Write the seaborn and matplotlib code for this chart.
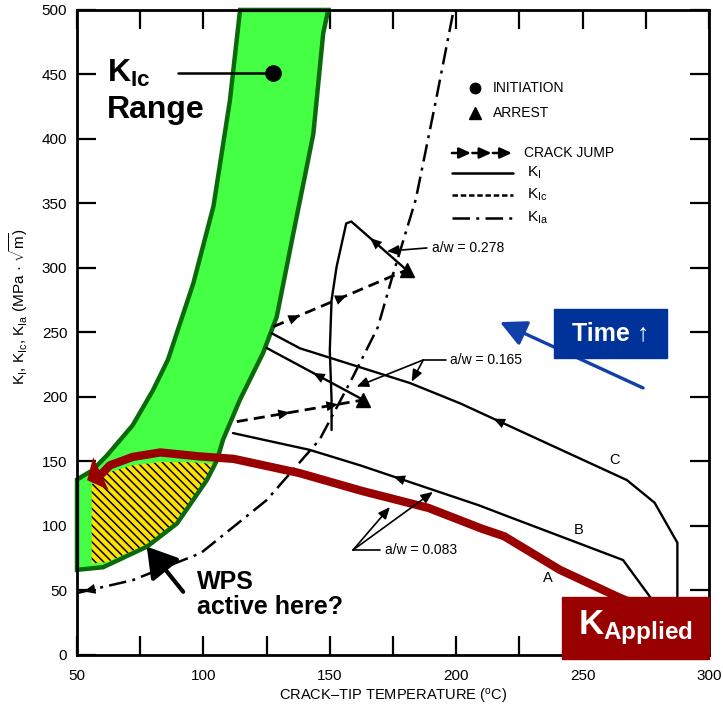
import numpy as np
import matplotlib.pyplot as plt
from matplotlib.patches import Rectangle
import seaborn as sns

# ---- values (data units: degC, MPa*sqrt(m)) ----
# K_Ic scatter band: outer edge going up, then inner edge coming back down
band_left_x = [50, 50, 56, 62, 72, 80, 86, 96, 104, 110.5, 114.5]
band_left_y = [66, 136, 143, 155, 178, 205, 229, 288, 348, 430, 500]
band_right_x = [149.4, 147.4, 143.5, 140.9, 135.6, 129, 123.6, 114.5, 107.8, 105.4, 101.4, 89.6, 77.7, 60.3]
band_right_y = [500, 482, 404, 378.5, 327, 262, 234, 198, 167, 151, 135.7, 102, 84, 68]

# hatched "WPS" region inside the band
wps_x = [55.8, 55.8, 60, 66, 72, 83, 95, 104, 101.4, 90, 78, 62]
wps_y = [71, 132, 140, 143.5, 147, 149.5, 149.5, 148, 136, 103, 86, 72]

# K_Ia (dash-dot)
kia_x = [50, 72, 99, 125, 146, 159, 169, 175, 184, 192, 199]
kia_y = [48, 58, 79, 120, 167, 215, 254, 295, 353, 430, 500]

# K_I curves, in time order (temperature falling)
kc_x = [287.5, 287.5, 278.5, 267.5, 201.5, 181.7, 162, 138.2, 127]
kc_y = [38, 87, 118, 135.6, 195.1, 210.8, 223, 237.7, 249.4]
kb_x = [279, 276.7, 266, 221, 209, 162, 142, 111.7]
kb_y = [38, 45, 73.6, 107, 116, 147, 159, 172]
k165_x = [163.3, 125]
k165_y = [197.7, 238]
k278_x = [180.4, 158.5, 156.5, 152.7, 150.7, 150, 150.7, 150.7]
k278_y = [298.4, 336, 334.5, 301, 275, 236, 198, 174.4]

# crack jumps (initiation -> arrest)
jump1_x = [127.7, 180.4]
jump1_y = [254.5, 298.4]
jump2_x = [113.2, 163.3]
jump2_y = [180.9, 197.7]
arrest_x = [180.4, 163.3]
arrest_y = [298.4, 197.7]

# K applied (red)
kapp_x = [59, 63, 72, 83, 98, 112, 138, 163, 189, 210, 219, 241, 264, 276]
kapp_y = [139, 147, 153.5, 157, 154, 152, 141, 127, 114, 98, 92, 66, 45, 35]

x_ticks = [50, 100, 150, 200, 250, 300]
y_ticks = [0, 50, 100, 150, 200, 250, 300, 350, 400, 450, 500]

BLACK = 'black'
RED = '#990000'
BLUE = '#003399'

sns.set_theme(style='ticks')
plt.rcParams['font.family'] = ['Liberation Sans', 'DejaVu Sans']
plt.rcParams['mathtext.fontset'] = 'custom'
plt.rcParams['mathtext.rm'] = 'Liberation Sans'
plt.rcParams['mathtext.it'] = 'Liberation Sans:italic'
plt.rcParams['mathtext.bf'] = 'Liberation Sans:bold'
plt.rcParams['hatch.linewidth'] = 1.1
for key in ['text.color', 'axes.labelcolor', 'xtick.color', 'ytick.color', 'axes.edgecolor']:
    plt.rcParams[key] = BLACK

fig = plt.figure(figsize=(7.23, 7.10), dpi=100)
ax = fig.add_axes([0.1065, 0.0775, 0.8741, 0.9085])


def head(x0, y0, x1, y1, frac, size=10, color=BLACK):
    # small filled arrowhead sitting on a segment, pointing from (x0,y0) to (x1,y1)
    xa, ya = x0 + (x1 - x0) * frac, y0 + (y1 - y0) * frac
    xb, yb = x0 + (x1 - x0) * (frac - 0.04), y0 + (y1 - y0) * (frac - 0.04)
    ax.annotate('', xy=(xa, ya), xytext=(xb, yb), zorder=5,
                arrowprops=dict(arrowstyle='-|>,head_length=0.7,head_width=0.3',
                                color=color, lw=0, shrinkA=0, shrinkB=0,
                                mutation_scale=size))


def leader(x0, y0, x1, y1):
    ax.annotate('', xy=(x1, y1), xytext=(x0, y0), zorder=5,
                arrowprops=dict(arrowstyle='-|>,head_length=0.7,head_width=0.3',
                                color=BLACK, lw=1.2, shrinkA=0, shrinkB=0,
                                mutation_scale=10))


# band + hatched WPS area
bx = band_left_x + band_right_x
by = band_left_y + band_right_y
ax.fill(bx, by, color='#44FF44', lw=0, zorder=2)
ax.fill(wps_x, wps_y, facecolor='#FFE000', edgecolor=BLACK, hatch='\\\\\\\\', lw=0, zorder=2.1)
ax.fill(bx, by, facecolor='none', edgecolor='#0A6A0A', lw=3.2, zorder=2.2, clip_on=False)

# K_Ia
sns.lineplot(x=kia_x, y=kia_y, sort=False, estimator=None, errorbar=None, color=BLACK,
             lw=1.8, linestyle=(0, (7, 2.5, 1.2, 2.5)), ax=ax, zorder=3)
head(kia_x[1], kia_y[1], kia_x[0], kia_y[0], 0.88, size=12)

# K_I curves
for cx, cy in [(kc_x, kc_y), (kb_x, kb_y), (k165_x, k165_y), (k278_x, k278_y)]:
    sns.lineplot(x=cx, y=cy, sort=False, estimator=None, errorbar=None, color=BLACK,
                 lw=1.7, ax=ax, zorder=3)
head(kc_x[3], kc_y[3], kc_x[4], kc_y[4], 0.8, size=12)
head(kb_x[4], kb_y[4], kb_x[5], kb_y[5], 0.72, size=12)
head(k165_x[0], k165_y[0], k165_x[1], k165_y[1], 0.52, size=12)
head(k278_x[0], k278_y[0], k278_x[1], k278_y[1], 0.66, size=12)

# crack jumps
for jx, jy, fr in [(jump1_x, jump1_y, [0.2, 0.55]), (jump2_x, jump2_y, [0.42, 0.8])]:
    sns.lineplot(x=jx, y=jy, sort=False, estimator=None, errorbar=None, color=BLACK,
                 lw=2, linestyle=(0, (4, 2.2)), ax=ax, zorder=3)
    for f in fr:
        head(jx[0], jy[0], jx[1], jy[1], f, size=12)
ax.plot(arrest_x, arrest_y, '^', color=BLACK, ms=10, zorder=5)

# a/w call-outs and curve letters
ax.text(190.4, 315.5, 'a/w = 0.278', fontsize=10, va='center', zorder=6)
leader(188.4, 315.5, 172.6, 313)
ax.text(197.6, 228.7, 'a/w = 0.165', fontsize=10, va='center', zorder=6)
ax.plot([196, 187], [228.7, 228.7], color=BLACK, lw=1.2, zorder=5)
leader(187, 228.7, 182.4, 211.9)
leader(187, 228.7, 160.6, 208)
ax.text(171.8, 81.4, 'a/w = 0.083', fontsize=10, va='center', zorder=6)
ax.plot([169.9, 159.2], [81.4, 81.4], color=BLACK, lw=1.2, zorder=5)
leader(159.2, 81.4, 173.8, 114.7)
leader(159.2, 81.4, 190.8, 126.4)
for lab, lx, ly in [('A', 236.4, 59.4), ('B', 248.3, 96.9), ('C', 262.8, 151)]:
    ax.text(lx, ly, lab, fontsize=10.5, ha='center', va='center', zorder=6)

# K applied
sns.lineplot(x=kapp_x, y=kapp_y, sort=False, estimator=None, errorbar=None, color=RED,
             lw=6, ax=ax, zorder=4, solid_capstyle='butt')
ax.annotate('', xy=(54, 135.5), xytext=(61, 142), zorder=4,
            arrowprops=dict(arrowstyle='-|>,head_length=0.55,head_width=0.65', color=RED,
                            lw=0, shrinkA=0, shrinkB=0, mutation_scale=20))

# legend block (drawn by hand, as in the original)
ax.plot([207.4], [439.5], 'o', color=BLACK, ms=7.5, zorder=5)
ax.text(214.6, 439.5, 'INITIATION', fontsize=10, va='center')
ax.plot([207.4], [420.2], '^', color=BLACK, ms=8.5, zorder=5)
ax.text(214.6, 420.2, 'ARREST', fontsize=10, va='center')
for k in range(3):
    ax.annotate('', xy=(198.3 + 8.1 * (k + 1), 389.1), xytext=(198.3 + 8.1 * k, 389.1),
                arrowprops=dict(arrowstyle='-|>,head_length=0.7,head_width=0.32', color=BLACK,
                                lw=1.8, shrinkA=0, shrinkB=1, mutation_scale=10))
ax.text(226.8, 389.1, 'CRACK JUMP', fontsize=10, va='center')
ax.plot([198.3, 222.5], [373.6, 373.6], color=BLACK, lw=1.8)
ax.text(228, 373.6, r'$\mathregular{K_I}$', fontsize=11, va='center')
ax.plot([198.3, 222.5], [356.6, 356.6], color=BLACK, lw=1.8, linestyle=(0, (2.2, 1.1)))
ax.text(228, 356.6, r'$\mathregular{K_{Ic}}$', fontsize=11, va='center')
ax.plot([198.3, 222.5], [338.8, 338.8], color=BLACK, lw=1.8, linestyle=(0, (7, 2.5, 1.2, 2.5)))
ax.text(228, 338.8, r'$\mathregular{K_{Ia}}$', fontsize=11, va='center')

# K_Ic Range label with pointer
ax.text(61.9, 444, r'$\mathbf{K_{Ic}}$', fontsize=23, va='baseline', zorder=6)
ax.text(61.9, 416, 'Range', fontsize=23, fontweight='bold', va='baseline', zorder=6)
ax.plot([90, 127.5], [451, 451], color=BLACK, lw=1.8, zorder=6)
ax.plot([127.5], [451], 'o', color=BLACK, ms=11, zorder=6)

# WPS label with pointer
ax.text(97.5, 66, 'WPS\nactive here?', fontsize=18, fontweight='bold', va='top',
        linespacing=1.05, zorder=6)
ax.annotate('', xy=(77.6, 84), xytext=(92, 49), zorder=6,
            arrowprops=dict(arrowstyle='-|>,head_length=0.9,head_width=0.55', color=BLACK,
                            lw=3, shrinkA=0, shrinkB=0, mutation_scale=20))

# Time box and blue arrow
ax.annotate('', xy=(217.3, 258), xytext=(273.9, 207), zorder=6,
            arrowprops=dict(arrowstyle='-|>,head_length=0.8,head_width=0.4', color='#1040A8',
                            lw=2.4, shrinkA=0, shrinkB=0, mutation_scale=20))
ax.add_patch(Rectangle((238.7, 230.2), 44.7, 38, color=BLUE, zorder=7))
ax.text(261, 249.2, 'Time ↑', color='white', fontsize=18, fontweight='bold',
        ha='center', va='center', zorder=8)

# K applied box
ax.add_patch(Rectangle((241.9, -3.1), 58.1, 48.1, color=RED, zorder=7, clip_on=False))
ax.text(271, 21, r'$\mathbf{K_{Applied}}$', color='white', fontsize=25,
        ha='center', va='center', zorder=8)

# axes styling
ax.set_xlim(50, 300)
ax.set_ylim(0, 500)
ax.set_xticks(x_ticks)
ax.set_xticks(np.arange(75, 300, 50), minor=True)
ax.set_yticks(y_ticks)
ax.set_xticklabels([str(v) for v in x_ticks])
ax.set_yticklabels([str(v) for v in y_ticks])
ax.tick_params(which='both', direction='in', length=14, width=1.6, top=True, right=True,
               labelsize=11, colors=BLACK)
ax.tick_params(axis='x', pad=10)
ax.tick_params(axis='y', pad=7)
for s in ax.spines.values():
    s.set_linewidth(2)
    s.set_color(BLACK)
ax.set_xlabel(r'CRACK–TIP TEMPERATURE ($\mathregular{^{o}C}$)', fontsize=10.5, labelpad=3)
ax.set_ylabel(r'$\mathregular{K_I}$, $\mathregular{K_{Ic}}$, $\mathregular{K_{Ia}}$ (MPa · $\sqrt{\mathregular{m}}$)',
              fontsize=11)
ax.yaxis.set_label_coords(-0.075, 0.54)
ax.set_facecolor('white')

fig.savefig('out.png', dpi=100)
